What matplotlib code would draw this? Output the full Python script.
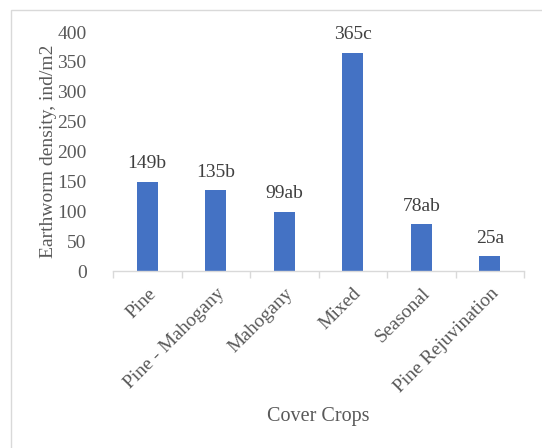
import numpy as np
import matplotlib.pyplot as plt
from matplotlib.patches import Rectangle

plt.rcParams['font.family'] = ['Liberation Serif', 'DejaVu Serif']

categories = ['Pine', 'Pine - Mahogany', 'Mahogany', 'Mixed', 'Seasonal', 'Pine Rejuvination']
density = [149, 135, 99, 365, 78, 25]
letters = ['b', 'b', 'ab', 'c', 'ab', 'a']
yticks = [0, 50, 100, 150, 200, 250, 300, 350, 400]

W, H = 542, 448
fig = plt.figure(figsize=(W / 100, H / 100), dpi=100)
ax = fig.add_axes([113 / W, 1 - 271 / H, (524 - 113) / W, (271 - 32) / H])

txt = '#595959'
fs = 14
x = np.arange(len(categories))
ax.bar(x, density, width=0.31, color='#4472C4', zorder=2)
for xi, v, l in zip(x, density, letters):
    ax.text(xi, v + 16, f'{v}{l}', ha='center', va='bottom', fontsize=fs, color='#404040')

ax.set_xlim(-0.5, len(categories) - 0.5)
ax.set_ylim(0, 400)
ax.set_yticks(yticks)
ax.set_yticklabels([str(t) for t in yticks], fontsize=fs, color=txt)
ax.tick_params(axis='y', length=0, pad=19)

ax.set_xticks(x)
ax.set_xticklabels(categories, rotation=45, ha='right', rotation_mode='anchor',
                   fontsize=fs, color=txt)
ax.set_xticks(np.arange(len(categories) + 1) - 0.5, minor=True)
ax.tick_params(axis='x', which='major', length=0, pad=10)
ax.tick_params(axis='x', which='minor', length=5, color='#D9D9D9', width=1)

for s in ['top', 'right', 'left']:
    ax.spines[s].set_visible(False)
ax.spines['bottom'].set_color('#D9D9D9')
ax.spines['bottom'].set_linewidth(1)

ax.set_ylabel('Earthworm density, ind/m2', fontsize=fs, color=txt, labelpad=0)
fig.text(318 / W, 1 - 416 / H, 'Cover Crops', ha='center', va='center', fontsize=14.5, color=txt)

fig.patches.append(Rectangle((11 / W, -0.1), 1.2, 1.1 - 10 / H, transform=fig.transFigure,
                             fill=False, edgecolor='#D9D9D9', linewidth=1))

fig.savefig('out.png', dpi=100)
